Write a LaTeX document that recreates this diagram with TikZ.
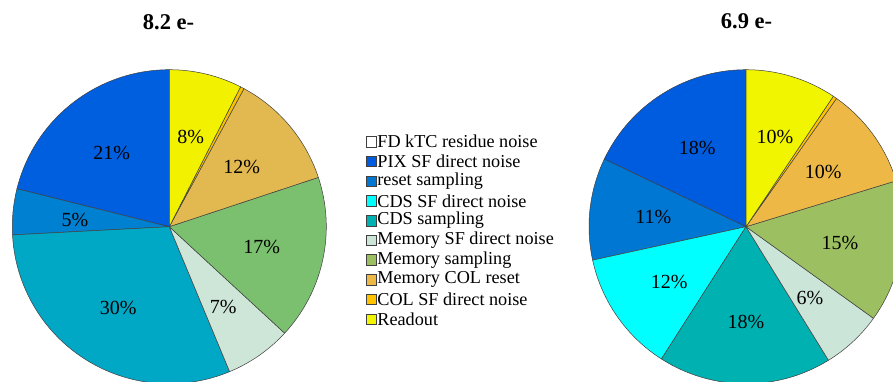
\documentclass[tikz,border=0pt]{standalone}
\usepackage{fontspec}
\setmainfont{Liberation Serif}
\definecolor{lPIX}{HTML}{005FDF}
\definecolor{lRES}{HTML}{0080D0}
\definecolor{lCDS}{HTML}{00A8C6}
\definecolor{lMSF}{HTML}{CDE6D8}
\definecolor{lMSA}{HTML}{7BC06E}
\definecolor{lMCR}{HTML}{E2B850}
\definecolor{lCOL}{HTML}{F8C000}
\definecolor{lRDO}{HTML}{F2F200}
\definecolor{rPIX}{HTML}{005CDF}
\definecolor{rRES}{HTML}{0077D3}
\definecolor{rCSF}{HTML}{00FFFF}
\definecolor{rCDS}{HTML}{00B1B1}
\definecolor{rMSF}{HTML}{CCE5D9}
\definecolor{rMSA}{HTML}{9CBF62}
\definecolor{rMCR}{HTML}{EEB846}
\definecolor{rCOL}{HTML}{FFC300}
\definecolor{rRDO}{HTML}{F2F500}
\definecolor{edge}{HTML}{404040}
\tikzset{
  slice/.style={draw=edge,line width=0.5pt,line join=round},
  pct/.style={font=\fontsize{20}{22}\selectfont,inner sep=0pt},
  ttl/.style={font=\bfseries\fontsize{22.5}{24}\selectfont,inner sep=0pt},
  legbox/.style={draw=edge,line width=0.5pt,minimum width=10.5pt,minimum height=10.5pt,inner sep=0pt},
  legtext/.style={font=\fontsize{18.2}{19}\selectfont,inner sep=0pt,anchor=west}
}
\newcommand{\pieslice}[4]{\filldraw[slice,fill=#4] (#1) -- ++(#2:157pt) arc[start angle=#2,end angle=#3,radius=157pt] -- cycle;}
\begin{document}
\begin{tikzpicture}[x=1pt,y=1pt]
\useasboundingbox (0,0) rectangle (893,381);
\fill[white] (0,0) rectangle (893,381);
\begin{scope}
\clip (0,0) rectangle (893,381);
% left pie
\coordinate (L) at (169.3,154.3);
\pieslice{L}{90}{166}{lPIX}
\pieslice{L}{166}{183}{lRES}
\pieslice{L}{183}{292.6}{lCDS}
\pieslice{L}{292.6}{317.3}{lMSF}
\pieslice{L}{317.3}{378.3}{lMSA}
\pieslice{L}{378.3}{421.6}{lMCR}
\pieslice{L}{421.6}{423}{lCOL}
\pieslice{L}{423}{450}{lRDO}
% right pie
\coordinate (R) at (746,154.3);
\pieslice{R}{90}{154.5}{rPIX}
\pieslice{R}{154.5}{192.3}{rRES}
\pieslice{R}{192.3}{237.4}{rCSF}
\pieslice{R}{237.4}{301.7}{rCDS}
\pieslice{R}{301.7}{324.3}{rMSF}
\pieslice{R}{324.3}{377}{rMSA}
\pieslice{R}{377}{414.8}{rMCR}
\pieslice{R}{414.8}{416.2}{rCOL}
\pieslice{R}{416.2}{450}{rRDO}
\end{scope}
% titles
\node[ttl] (tL) at (168.5,359.3) {8.2 e-};
\node[ttl] (tR) at (746.5,359.3) {6.9 e-};
% left labels
\node[pct] (l21) at (111.7,227.7) {21\%};
\node[pct] (l5)  at (75,161) {5\%};
\node[pct] (l30) at (118.3,72.7) {30\%};
\node[pct] (l7)  at (223.3,74.3) {7\%};
\node[pct] (l17) at (261.7,134.3) {17\%};
\node[pct] (l12) at (241.7,214.3) {12\%};
\node[pct] (l8)  at (190.7,244.3) {8\%};
% right labels
\node[pct] (r18a) at (697.3,232.7) {18\%};
\node[pct] (r11)  at (653.3,164.3) {11\%};
\node[pct] (r12)  at (669.3,99.3) {12\%};
\node[pct] (r18b) at (746,59.3) {18\%};
\node[pct] (r6)   at (810,82.7) {6\%};
\node[pct] (r15)  at (840,137.7) {15\%};
\node[pct] (r10a) at (823.3,209.3) {10\%};
\node[pct] (r10b) at (775,244.3) {10\%};
% legend
\foreach \c/\t [count=\i from 0] in {white/FD kTC residue noise, rPIX/PIX SF direct noise, rRES/reset sampling, rCSF/CDS SF direct noise, rCDS/CDS sampling, rMSF/Memory SF direct noise, rMSA/Memory sampling, rMCR/Memory COL reset, rCOL/COL SF direct noise, rRDO/Readout}{
  \node[legbox,fill=\c] (b\i) at (371.3,{239.3-19.7*\i}) {};
  \node[legtext] (t\i) at (377.2,{239.3-19.7*\i}) {\t};
}
\end{tikzpicture}
\end{document}
